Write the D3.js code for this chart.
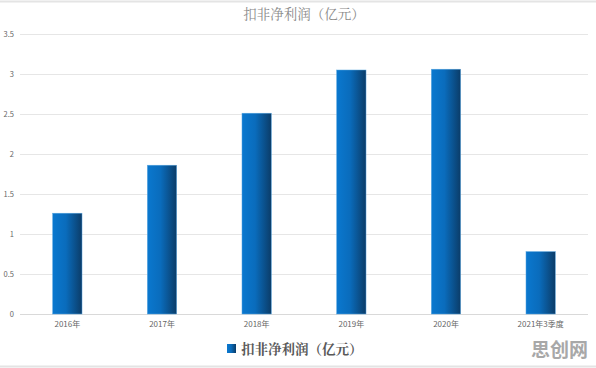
<!DOCTYPE html>
<html>
<head>
<meta charset="utf-8">
<script src="https://cdn.jsdelivr.net/npm/d3@7"></script>
<style>
  body { margin: 0; background: #fff; }
  svg text { font-family: "Noto Sans CJK SC", "DejaVu Sans", sans-serif; }
</style>
</head>
<body>
<div id="chart"></div>
<script>
var categories = ["2016年", "2017年", "2018年", "2019年", "2020年", "2021年3季度"];
var values = [1.26, 1.86, 2.51, 3.05, 3.06, 0.78];
var yTicks = [0, 0.5, 1, 1.5, 2, 2.5, 3, 3.5];
var title = "扣非净利润（亿元）";

var svgWidth = 596, svgHeight = 368;
var margin = {top: 34, right: 8, bottom: 54, left: 20},
  width = svgWidth - margin.left - margin.right,
  height = svgHeight - margin.top - margin.bottom;

var svg = d3.select("#chart").append("svg")
  .attr("width", svgWidth)
  .attr("height", svgHeight);

var defs = svg.append("defs");
var grad = defs.append("linearGradient").attr("id", "barGrad")
  .attr("x1", "0%").attr("x2", "100%").attr("y1", "0%").attr("y2", "0%");
grad.append("stop").attr("offset", "0%").attr("stop-color", "#0a78cf");
grad.append("stop").attr("offset", "45%").attr("stop-color", "#0a6cbc");
grad.append("stop").attr("offset", "100%").attr("stop-color", "#0b3c68");

// frame lines top and bottom
svg.append("line").attr("x1", 0).attr("x2", svgWidth).attr("y1", 1.5).attr("y2", 1.5)
  .attr("stroke", "#e4e4e4").attr("stroke-width", 2);
svg.append("line").attr("x1", 0).attr("x2", svgWidth).attr("y1", 366.5).attr("y2", 366.5)
  .attr("stroke", "#e4e4e4").attr("stroke-width", 2);

var xscale = d3.scaleBand()
  .domain(categories)
  .range([margin.left, margin.left + width])
  .paddingInner(0.69).paddingOuter(0.345);
var yscale = d3.scaleLinear()
  .domain([0, 3.5])
  .range([margin.top + height, margin.top]);

// gridlines
svg.append("g")
  .selectAll("line").data(yTicks).enter().append("line")
  .attr("x1", margin.left).attr("x2", margin.left + width)
  .attr("y1", d => Math.round(yscale(d)) + 0.5)
  .attr("y2", d => Math.round(yscale(d)) + 0.5)
  .attr("stroke", d => d === 0 ? "#d9d9d9" : "#e6e6e6");

var yAxis = d3.axisLeft(yscale).tickValues(yTicks).tickFormat(d => String(d))
  .tickSize(0).tickPadding(6);
svg.append("g")
  .attr("transform", "translate(" + margin.left + ",0)")
  .call(yAxis)
  .call(g => g.select(".domain").remove())
  .selectAll("text")
    .attr("fill", "#666666")
    .style("font-size", "7.5px");

var xAxis = d3.axisBottom(xscale).tickSize(0).tickPadding(7);
svg.append("g")
  .attr("transform", "translate(0," + (margin.top + height) + ")")
  .call(xAxis)
  .call(g => g.select(".domain").remove())
  .selectAll("text")
    .attr("fill", "#666666")
    .style("font-size", "8px");

svg.selectAll(".bar")
  .data(values)
  .enter().append("rect")
  .attr("class", "bar")
  .attr("x", (d, i) => xscale(categories[i]))
  .attr("y", d => yscale(d))
  .attr("width", xscale.bandwidth())
  .attr("height", d => margin.top + height - yscale(d))
  .attr("fill", "url(#barGrad)")
  .attr("stroke", "#5aa6e0")
  .attr("stroke-width", 0.5);

// title
svg.append("text")
  .attr("x", 304).attr("y", 19)
  .attr("text-anchor", "middle")
  .attr("fill", "#8a8a8a")
  .style("font-family", "'Noto Serif CJK SC', 'Noto Sans CJK SC', serif")
  .style("font-size", "13.5px")
  .text(title);

// legend
svg.append("rect")
  .attr("x", 227).attr("y", 344).attr("width", 9).attr("height", 9)
  .attr("fill", "url(#barGrad)");
svg.append("text")
  .attr("x", 241).attr("y", 354)
  .attr("fill", "#595959")
  .style("font-family", "'Noto Serif CJK SC', 'Noto Sans CJK SC', serif")
  .style("font-weight", "bold")
  .style("font-size", "13.5px")
  .text(title);

// watermark
svg.append("text")
  .attr("x", 588).attr("y", 357)
  .attr("text-anchor", "end")
  .attr("fill", "#a8a8a8")
  .style("font-weight", "bold")
  .style("font-size", "19px")
  .text("思创网");
</script>
</body>
</html>
